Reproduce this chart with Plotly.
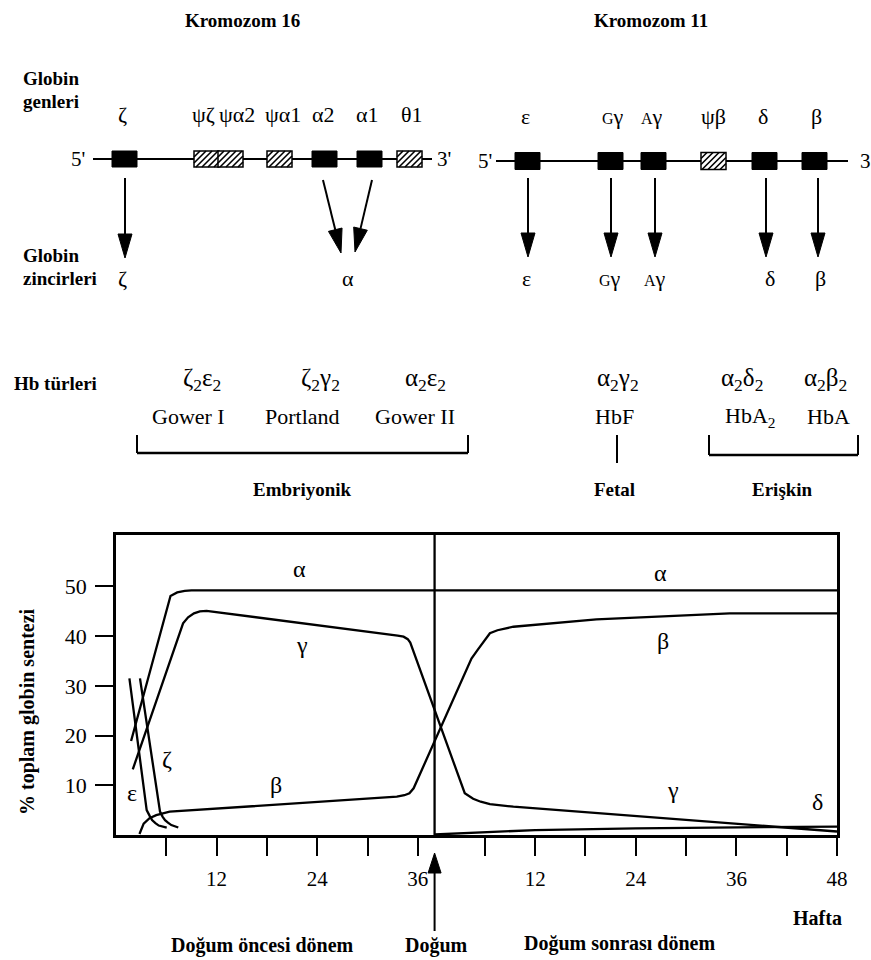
import plotly.graph_objects as go

W, H = 871, 960
SERIF = "Liberation Serif"

# ------------------------------------------------------------------ data
BIRTH_WEEK = 38  # birth position on the prenatal week scale

# % of total globin synthesis; prenatal weeks (pre) and postnatal weeks (post)
alpha_pre_wk = [1.8, 6.5, 7.3, 8.2, 9.0, 38.0]
alpha_pre_pct = [18.9, 48.1, 48.8, 49.1, 49.2, 49.2]
alpha_post_wk = [0, 48]
alpha_post_pct = [49.2, 49.2]

gamma_pre_wk = [2.0, 7.6, 8.0, 8.6, 9.3, 10.0, 10.8, 33.6, 34.3, 34.8, 35.1]
gamma_pre_pct = [13.2, 40.6, 42.6, 43.8, 44.6, 45.0, 45.1, 40.1, 39.9, 39.4, 38.7]
gamma_post_wk = [3.6, 4.1, 4.6, 5.5, 6.6, 9.4, 48]
gamma_post_pct = [8.4, 7.8, 7.3, 6.7, 6.2, 5.7, 0.7]

beta_pre_wk = [2.8, 3.0, 3.3, 4.0, 4.8, 6.4, 33.5, 34.4, 35.0, 35.5]
beta_pre_pct = [0.2, 1.2, 2.3, 3.4, 4.0, 4.7, 7.7, 8.0, 8.4, 9.4]
beta_post_wk = [4.4, 5.2, 6.0, 6.6, 7.5, 9.4, 19.3, 35.2, 48]
beta_post_pct = [35.5, 37.4, 39.3, 40.6, 41.2, 41.9, 43.4, 44.6, 44.6]

epsilon_pre_wk = [1.6, 3.66, 4.0, 4.3, 4.7, 5.1, 6.05]
epsilon_pre_pct = [31.5, 5.0, 3.9, 3.0, 2.4, 1.9, 1.5]

zeta_pre_wk = [2.86, 5.25, 5.55, 5.85, 6.2, 6.6, 7.43]
zeta_pre_pct = [31.5, 4.7, 3.7, 3.0, 2.5, 2.0, 1.5]

delta_post_wk = [0, 6, 12, 24, 36, 48]
delta_post_pct = [0.1, 0.6, 1.0, 1.35, 1.55, 1.7]

y_ticks = [10, 20, 30, 40, 50]
pre_ticks = [6, 12, 18, 24, 30, 36]
post_ticks = [6, 12, 18, 24, 30, 36, 42, 48]
labelled_ticks = [12, 24, 36, 48]

# gene map
chr16_genes = ["ζ", "ψζ", "ψα2", "ψα1", "α2", "α1", "θ1"]
chr16_active = [True, False, False, False, True, True, False]
chr16_chains = ["ζ", "α"]
chr11_genes = ["ε", "<span style='font-size:16px'>G</span>γ",
               "<span style='font-size:16px'>A</span>γ", "ψβ", "δ", "β"]
chr11_active = [True, True, True, False, True, True]
chr11_chains = ["ε", "<span style='font-size:16px'>G</span>γ",
                "<span style='font-size:16px'>A</span>γ", "δ", "β"]

hb_formulas = ["ζ<sub>2</sub>ε<sub>2</sub>", "ζ<sub>2</sub>γ<sub>2</sub>",
               "α<sub>2</sub>ε<sub>2</sub>", "α<sub>2</sub>γ<sub>2</sub>",
               "α<sub>2</sub>δ<sub>2</sub>", "α<sub>2</sub>β<sub>2</sub>"]
hb_names = ["Gower I", "Portland", "Gower II", "HbF", "HbA<sub>2</sub>", "HbA"]
hb_groups = ["Embriyonik", "Fetal", "Erişkin"]

# ------------------------------------------------------------------ layout positions (pixels)
chr16_box_left = [112, 194, 218, 267, 312, 357, 397]
chr16_label_x = [122, 203, 237, 283, 323, 367, 412]
chr16_chain_x = [122, 348]
chr16_arrows = [((125, 178), (125, 258)), ((323, 180), (341, 253)), ((372, 180), (355, 252))]
chr11_box_left = [515, 598, 641, 701, 752, 802]
chr11_label_x = [525, 613, 652, 713, 763, 816]
chr11_chain_x = [526, 610, 655, 770, 820]
chr11_arrow_x = [528, 611, 655, 766, 818]
hb_formula_x = [202, 320, 425, 618, 742, 825]
hb_name_x = [188, 302, 415, 614, 750, 828]
hb_group_x = [302, 614, 782]


def px(x):
    return x / W


def py(y):
    return 1 - y / H


fig = go.Figure()

# ------------------------------------------------------------------ chart traces
def series(pre_wk=None, pre_pct=None, post_wk=None, post_pct=None):
    xs, ys = [], []
    if pre_wk:
        xs += list(pre_wk)
        ys += list(pre_pct)
    if post_wk:
        xs += [BIRTH_WEEK + t for t in post_wk]
        ys += list(post_pct)
    return xs, ys


curves = [
    series(alpha_pre_wk, alpha_pre_pct, alpha_post_wk, alpha_post_pct),
    series(gamma_pre_wk, gamma_pre_pct, gamma_post_wk, gamma_post_pct),
    series(beta_pre_wk, beta_pre_pct, beta_post_wk, beta_post_pct),
    series(epsilon_pre_wk, epsilon_pre_pct),
    series(zeta_pre_wk, zeta_pre_pct),
    series(post_wk=delta_post_wk, post_pct=delta_post_pct),
]
for xs, ys in curves:
    fig.add_trace(go.Scatter(x=xs, y=ys, mode="lines",
                             line=dict(color="black", width=2.3),
                             showlegend=False, hoverinfo="skip"))

XMAX = BIRTH_WEEK + 48
major_vals = [t for t in pre_ticks if t in labelled_ticks] + \
             [BIRTH_WEEK + t for t in post_ticks if t in labelled_ticks]
major_text = [str(t) for t in pre_ticks if t in labelled_ticks] + \
             [str(t) for t in post_ticks if t in labelled_ticks]
minor_vals = [t for t in pre_ticks if t not in labelled_ticks] + \
             [BIRTH_WEEK + t for t in post_ticks if t not in labelled_ticks]

fig.update_layout(
    width=W, height=H,
    margin=dict(l=0, r=0, t=0, b=0),
    paper_bgcolor="white", plot_bgcolor="rgba(0,0,0,0)",
    font=dict(family=SERIF, color="black"),
    xaxis=dict(domain=[116 / W, 837 / W], range=[0, XMAX],
               showline=True, linecolor="black", linewidth=2.5, mirror=True,
               ticks="outside", ticklen=18, tickwidth=2, tickcolor="black",
               tickmode="array", tickvals=major_vals, ticktext=major_text,
               minor=dict(tickmode="array", tickvals=minor_vals, ticks="outside",
                          ticklen=18, tickwidth=2, tickcolor="black", showgrid=False),
               tickfont=dict(family=SERIF, size=21),
               ticklabelstandoff=5, automargin=False,
               showgrid=False, zeroline=False),
    yaxis=dict(domain=[(H - 835) / H, (H - 535) / H], range=[0, 60.36],
               showline=True, linecolor="black", linewidth=2.5, mirror=True,
               ticks="outside", ticklen=18, tickwidth=2, tickcolor="black",
               tickvals=y_ticks, ticktext=[str(v) for v in y_ticks],
               tickfont=dict(family=SERIF, size=22),
               ticklabelstandoff=4, automargin=False,
               showgrid=False, zeroline=False),
)

shapes = []
ann = []


def text(x, y, s, size=20, bold=False, xanchor="center", xref="paper", yref="paper", angle=0):
    if bold:
        s = "<b>" + s + "</b>"
    if xref == "paper":
        x = px(x)
    if yref == "paper":
        y = py(y)
    ann.append(dict(x=x, y=y, xref=xref, yref=yref, text=s, showarrow=False,
                    xanchor=xanchor, yanchor="middle", textangle=angle,
                    font=dict(family=SERIF, size=size, color="black")))


def pline(x0, y0, x1, y1, w=2.0):
    shapes.append(dict(type="line", xref="paper", yref="paper",
                       x0=px(x0), y0=py(y0), x1=px(x1), y1=py(y1),
                       line=dict(color="black", width=w)))


def arrow(x0, y0, x1, y1, head=24, half=7, w=2.0):
    # arrow from (x0,y0) to tip (x1,y1) in pixels
    dx, dy = x1 - x0, y1 - y0
    L = (dx * dx + dy * dy) ** 0.5
    ux, uy = dx / L, dy / L
    bx, by = x1 - ux * head, y1 - uy * head
    nx, ny = -uy, ux
    pline(x0, y0, bx, by, w)
    p = "M {} {} L {} {} L {} {} Z".format(
        px(x1), py(y1), px(bx + nx * half), py(by + ny * half),
        px(bx - nx * half), py(by - ny * half))
    shapes.append(dict(type="path", xref="paper", yref="paper", path=p,
                       fillcolor="black", line=dict(color="black", width=1)))


def gene_box(x0, yc, active, w=25, h=16):
    y0, y1 = yc - h / 2, yc + h / 2
    if active:
        shapes.append(dict(type="rect", xref="paper", yref="paper",
                           x0=px(x0), x1=px(x0 + w), y0=py(y1), y1=py(y0),
                           fillcolor="black", line=dict(color="black", width=1)))
        return
    shapes.append(dict(type="rect", xref="paper", yref="paper",
                       x0=px(x0), x1=px(x0 + w), y0=py(y1), y1=py(y0),
                       fillcolor="white", line=dict(color="black", width=1.5)))
    x1 = x0 + w
    k = x0 - h
    while k < x1:
        t0 = max(0, x0 - k)
        t1 = min(h, x1 - k)
        if t1 > t0:
            shapes.append(dict(type="line", xref="paper", yref="paper",
                               x0=px(k + t0), y0=py(y1 - t0),
                               x1=px(k + t1), y1=py(y1 - t1),
                               line=dict(color="black", width=1.6)))
        k += 6


# ------------------------------------------------------------------ gene diagram
text(242, 20, "Kromozom 16", 19, True)
text(651, 20, "Kromozom 11", 19, True)
text(21, 79, "Globin", 19, True, "left")
text(21, 101, "genleri", 19, True, "left")
text(21, 255, "Globin", 19, True, "left")
text(21, 278, "zincirleri", 19, True, "left")

# chromosome 16
pline(93, 159, 432, 159, 2)
text(78, 159, "5'", 21)
text(444, 159, "3'", 21)
for g, a, xl, xt in zip(chr16_genes, chr16_active, chr16_box_left, chr16_label_x):
    gene_box(xl, 159, a)
    text(xt, 115, g, 22)
for (s, e) in chr16_arrows:
    arrow(s[0], s[1], e[0], e[1])
for c, xc in zip(chr16_chains, chr16_chain_x):
    text(xc, 278, c, 22)

# chromosome 11
pline(496, 161, 848, 161, 2)
text(485, 161, "5'", 21)
text(858, 161, "3", 21, xanchor="left")
for g, a, xl, xt in zip(chr11_genes, chr11_active, chr11_box_left, chr11_label_x):
    gene_box(xl, 161, a, h=17)
    text(xt, 117, g, 22)
for xa in chr11_arrow_x:
    arrow(xa, 178, xa, 257)
for c, xc in zip(chr11_chains, chr11_chain_x):
    text(xc, 278, c, 22)

# Hb types
text(12, 383, "Hb türleri", 19, True, "left")
for f, xf in zip(hb_formulas, hb_formula_x):
    text(xf, 380, f, 25)
for n, xn in zip(hb_names, hb_name_x):
    text(xn, 417, n, 22)
for g, xg in zip(hb_groups, hb_group_x):
    text(xg, 489, g, 19, True)
# brackets
pline(137, 435, 137, 453, 2)
pline(137, 453, 468, 453, 2.5)
pline(468, 435, 468, 453, 2)
pline(617, 435, 617, 463, 2)
pline(709, 435, 709, 455, 2)
pline(709, 455, 858, 455, 2.5)
pline(858, 435, 858, 455, 2)

# ------------------------------------------------------------------ chart decorations
shapes.append(dict(type="line", xref="x", yref="y", x0=BIRTH_WEEK, x1=BIRTH_WEEK,
                   y0=0, y1=60.36, line=dict(color="black", width=2.3)))
# birth arrow below axis
bx_px = 116 + BIRTH_WEEK * (837 - 116) / XMAX
arrow(bx_px, 931, bx_px, 853, head=20, half=6.5, w=2)

text(262, 945, "Doğum öncesi dönem", 20, True)
text(436, 945, "Doğum", 20, True)
text(619, 943, "Doğum sonrası dönem", 20, True)
text(817, 918, "Hafta", 20, True)
text(27, 712, "% toplam globin sentezi", 20, True, angle=-90)

curve_labels = [
    ("α", 21.9, 53.5), ("γ", 22.2, 38.2), ("β", 19.1, 10.1), ("ε", 1.9, 8.5),
    ("ζ", 6.1, 15.3), ("α", BIRTH_WEEK + 26.9, 52.7), ("β", BIRTH_WEEK + 27.2, 39.0),
    ("γ", BIRTH_WEEK + 28.4, 9.1), ("δ", BIRTH_WEEK + 45.7, 6.6),
]
for s, x, y in curve_labels:
    text(x, y, s, 24, xref="x", yref="y")

fig.update_layout(shapes=shapes, annotations=ann)
fig.write_html("out.html",
               config={"displayModeBar": False},
               post_script="document.body.style.margin='0';"
                           "document.body.style.padding='0';"
                           "document.documentElement.style.overflow='hidden';")
